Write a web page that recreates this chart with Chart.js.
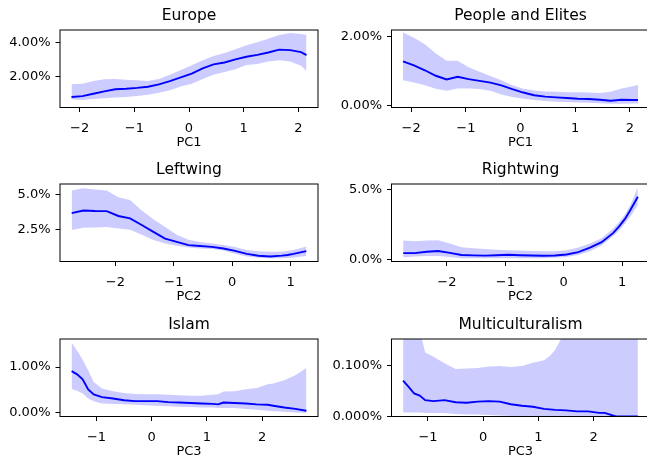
<!DOCTYPE html>
<html>
<head>
<meta charset="utf-8">
<title>PC effects</title>
<script src="https://cdn.jsdelivr.net/npm/chart.js@4.4.1/dist/chart.umd.min.js"></script>
<style>
  html, body { margin: 0; padding: 0; background: #fff; overflow: hidden; }
  #figura { position: relative; width: 647px; height: 460px; overflow: hidden; }
  #figura canvas { position: absolute; }
</style>
</head>
<body>
<div id="figura"></div>
<script>
// ==================== DATA (values in %) ====================

// PC1 panels
const pc1 = [-2.15, -1.95, -1.75, -1.55, -1.35, -1.15, -0.95, -0.75, -0.55, -0.35, -0.15, 0.05,
             0.25, 0.45, 0.65, 0.85, 1.05, 1.25, 1.45, 1.65, 1.85, 2.05, 2.15];
const pc1Ticks = [-2, -1, 0, 1, 2];
const pc1TickLabels = ['−2', '−1', '0', '1', '2'];

const europeMean = [0.82, 0.87, 1.01, 1.15, 1.27, 1.30, 1.35, 1.42, 1.56, 1.75, 1.97, 2.19,
                    2.50, 2.73, 2.84, 3.03, 3.18, 3.29, 3.43, 3.60, 3.57, 3.45, 3.28];
const europeHigh = [1.57, 1.60, 1.75, 1.86, 1.87, 1.83, 1.80, 1.76, 1.88, 2.12, 2.40, 2.68,
                    2.97, 3.22, 3.40, 3.62, 3.85, 4.03, 4.24, 4.46, 4.57, 4.52, 4.47];
const europeLow  = [0.67, 0.64, 0.70, 0.75, 0.78, 0.82, 0.88, 0.95, 1.06, 1.21, 1.44, 1.60,
                    1.88, 2.13, 2.28, 2.45, 2.69, 2.76, 2.90, 2.97, 2.90, 2.65, 2.35];
const europeYTicks = [2, 4];
const europeYTickLabels = ['2.00%', '4.00%'];

const peopleMean = [1.28, 1.16, 1.02, 0.86, 0.75, 0.83, 0.76, 0.71, 0.66, 0.58, 0.47, 0.37,
                    0.29, 0.25, 0.23, 0.21, 0.19, 0.18, 0.16, 0.13, 0.16, 0.15, 0.15];
const peopleHigh = [2.12, 1.97, 1.78, 1.51, 1.30, 1.30, 1.11, 0.98, 0.85, 0.73, 0.58, 0.48,
                    0.43, 0.40, 0.39, 0.38, 0.38, 0.37, 0.36, 0.39, 0.49, 0.55, 0.59];
const peopleLow  = [0.73, 0.66, 0.58, 0.48, 0.42, 0.49, 0.49, 0.47, 0.42, 0.31, 0.24, 0.19,
                    0.15, 0.12, 0.10, 0.09, 0.08, 0.07, 0.06, 0.04, 0.04, 0.05, 0.05];
const peopleYTicks = [0, 2];
const peopleYTickLabels = ['0.00%', '2.00%'];

// PC2 panels
const pc2 = [-2.75, -2.55, -2.35, -2.15, -1.95, -1.75, -1.55, -1.35, -1.15, -0.95, -0.75, -0.55,
             -0.35, -0.15, 0.05, 0.25, 0.45, 0.65, 0.85, 0.95, 1.05, 1.15, 1.27];
const pc2Ticks = [-2, -1, 0, 1];
const pc2TickLabels = ['−2', '−1', '0', '1'];

const leftMean = [3.66, 3.85, 3.81, 3.80, 3.45, 3.28, 2.80, 2.30, 1.82, 1.58, 1.35, 1.28,
                  1.22, 1.10, 0.93, 0.71, 0.58, 0.53, 0.59, 0.63, 0.71, 0.80, 0.91];
const leftHigh = [5.29, 5.46, 5.36, 5.29, 4.80, 4.60, 3.85, 3.22, 2.65, 2.09, 1.74, 1.57,
                  1.46, 1.36, 1.21, 1.00, 0.90, 0.86, 0.87, 0.92, 1.00, 1.10, 1.24];
const leftLow  = [2.43, 2.60, 2.62, 2.66, 2.54, 2.45, 2.10, 1.72, 1.47, 1.30, 1.17, 1.10,
                  1.07, 0.95, 0.73, 0.52, 0.44, 0.40, 0.40, 0.42, 0.46, 0.50, 0.57];
const leftYTicks = [2.5, 5];
const leftYTickLabels = ['2.5%', '5.0%'];

const rightMean = [0.43, 0.43, 0.53, 0.58, 0.45, 0.30, 0.27, 0.25, 0.28, 0.31, 0.28, 0.26,
                   0.24, 0.26, 0.33, 0.50, 0.82, 1.21, 1.88, 2.35, 2.88, 3.57, 4.47];
const rightHigh = [1.33, 1.28, 1.33, 1.36, 1.12, 0.85, 0.78, 0.72, 0.68, 0.63, 0.62, 0.59,
                   0.56, 0.56, 0.63, 0.83, 1.12, 1.50, 2.20, 2.65, 3.20, 3.95, 5.14];
const rightLow  = [0.14, 0.18, 0.22, 0.22, 0.15, 0.07, 0.07, 0.07, 0.07, 0.07, 0.07, 0.07,
                   0.07, 0.10, 0.15, 0.30, 0.56, 0.98, 1.65, 2.05, 2.55, 3.10, 3.88];
const rightYTicks = [0, 5];
const rightYTickLabels = ['0.0%', '5.0%'];

// PC3 panels
const pc3 = [-1.45, -1.35, -1.25, -1.15, -1.05, -0.9, -0.7, -0.5, -0.3, -0.1, 0.1, 0.3, 0.5,
             0.7, 0.9, 1.1, 1.2, 1.3, 1.5, 1.7, 1.9, 2.1, 2.2, 2.4, 2.6, 2.8];
const pc3Ticks = [-1, 0, 1, 2];
const pc3TickLabels = ['−1', '0', '1', '2'];

const islamMean = [0.91, 0.84, 0.73, 0.51, 0.40, 0.34, 0.31, 0.27, 0.25, 0.25, 0.25, 0.23, 0.22,
                   0.21, 0.20, 0.19, 0.18, 0.22, 0.21, 0.20, 0.18, 0.17, 0.15, 0.11, 0.08, 0.04];
const islamHigh = [1.54, 1.36, 1.16, 0.93, 0.67, 0.53, 0.47, 0.43, 0.41, 0.40, 0.40, 0.39, 0.38,
                   0.37, 0.37, 0.39, 0.40, 0.46, 0.47, 0.51, 0.54, 0.62, 0.64, 0.71, 0.82, 0.98];
const islamLow  = [0.52, 0.48, 0.42, 0.31, 0.25, 0.20, 0.19, 0.18, 0.17, 0.16, 0.15, 0.14, 0.13,
                   0.12, 0.11, 0.11, 0.10, 0.10, 0.10, 0.08, 0.06, 0.04, 0.03, 0.02, 0.00, -0.01];
const islamYTicks = [0, 1];
const islamYTickLabels = ['0.00%', '1.00%'];

const multiMean = [0.070, 0.058, 0.045, 0.041, 0.032, 0.030, 0.032, 0.028, 0.027, 0.029, 0.030, 0.029, 0.024,
                   0.021, 0.019, 0.015, 0.014, 0.013, 0.012, 0.010, 0.010, 0.007, 0.007, 0.000, 0.000, 0.000];
const multiHigh = [0.300, 0.270, 0.230, 0.170, 0.125, 0.117, 0.104, 0.093, 0.094, 0.095, 0.098, 0.099, 0.097,
                   0.099, 0.105, 0.110, 0.118, 0.130, 0.170, 0.220, 0.270, 0.320, 0.350, 0.400, 0.450, 0.500];
const multiLow  = [0.008, 0.008, 0.008, 0.008, 0.007, 0.007, 0.007, 0.005, 0.004, 0.004, 0.003, 0.002, 0.001,
                   0.000, 0.000, 0.000, 0.000, 0.000, 0.000, 0.000, 0.000, 0.000, 0.000, 0.000, 0.000, 0.000];
const multiYTicks = [0, 0.1];
const multiYTickLabels = ['0.000%', '0.100%'];

// ==================== LAYOUT ====================
const FONTE = 'DejaVu Sans';
const TICK_SIZE = 13;
const TITLE_SIZE = 15.5;
const CANVAS_W = 330;
const CANVAS_H = 150;
const COL_LEFT = [0, 330];
const AXIS_W = [60, 61.5];      // space for y tick labels
const PAD_RIGHT = [12, 10.5];   // right column runs past the window edge
const ROW_TOP = [0, 153.5, 308.5];
const X_AXIS_H = 42.5;

const paineis = [
    { title: 'Europe', xLabel: 'PC1', x: pc1, mean: europeMean, low: europeLow, high: europeHigh,
      xTicks: pc1Ticks, xTickLabels: pc1TickLabels, yTicks: europeYTicks, yTickLabels: europeYTickLabels,
      xMin: -2.36, xMax: 2.36, yMin: 0.2, yMax: 4.75, col: 0, row: 0 },
    { title: 'People and Elites', xLabel: 'PC1', x: pc1, mean: peopleMean, low: peopleLow, high: peopleHigh,
      xTicks: pc1Ticks, xTickLabels: pc1TickLabels, yTicks: peopleYTicks, yTickLabels: peopleYTickLabels,
      xMin: -2.36, xMax: 2.36, yMin: -0.067, yMax: 2.196, col: 1, row: 0 },
    { title: 'Leftwing', xLabel: 'PC2', x: pc2, mean: leftMean, low: leftLow, high: leftHigh,
      xTicks: pc2Ticks, xTickLabels: pc2TickLabels, yTicks: leftYTicks, yTickLabels: leftYTickLabels,
      xMin: -2.95, xMax: 1.47, yMin: 0.164, yMax: 5.76, col: 0, row: 1 },
    { title: 'Rightwing', xLabel: 'PC2', x: pc2, mean: rightMean, low: rightLow, high: rightHigh,
      xTicks: pc2Ticks, xTickLabels: pc2TickLabels, yTicks: rightYTicks, yTickLabels: rightYTickLabels,
      xMin: -2.95, xMax: 1.47, yMin: -0.17, yMax: 5.38, col: 1, row: 1 },
    { title: 'Islam', xLabel: 'PC3', x: pc3, mean: islamMean, low: islamLow, high: islamHigh,
      xTicks: pc3Ticks, xTickLabels: pc3TickLabels, yTicks: islamYTicks, yTickLabels: islamYTickLabels,
      xMin: -1.66, xMax: 3.01, yMin: -0.087, yMax: 1.617, col: 0, row: 2 },
    { title: 'Multiculturalism', xLabel: 'PC3', x: pc3, mean: multiMean, low: multiLow, high: multiHigh,
      xTicks: pc3Ticks, xTickLabels: pc3TickLabels, yTicks: multiYTicks, yTickLabels: multiYTickLabels,
      xMin: -1.66, xMax: 3.01, yMin: 0, yMax: 0.1516, col: 1, row: 2 }
];

// Box around the plot area (all four spines)
const molduraPlugin = {
    id: 'moldura',
    afterDraw(chart) {
        const { ctx, chartArea: a } = chart;
        ctx.save();
        ctx.strokeStyle = '#000';
        ctx.lineWidth = 1;
        ctx.strokeRect(a.left, a.top, a.right - a.left, a.bottom - a.top);
        ctx.restore();
    }
};

function fonte(tamanho) {
    return { family: FONTE, size: tamanho, weight: 'normal' };
}

// Build one subplot
function criarPainel(p) {
    const canvas = document.createElement('canvas');
    canvas.width = CANVAS_W;
    canvas.height = CANVAS_H;
    canvas.style.left = COL_LEFT[p.col] + 'px';
    canvas.style.top = ROW_TOP[p.row] + 'px';
    document.getElementById('figura').appendChild(canvas);

    const pontos = serie => p.x.map((x, i) => ({ x: x, y: serie[i] }));

    new Chart(canvas.getContext('2d'), {
        type: 'line',
        data: {
            datasets: [
                { data: pontos(p.mean), borderColor: '#0000ff', borderWidth: 1.9,
                  pointRadius: 0, fill: false, tension: 0 },
                { data: pontos(p.low), borderColor: 'transparent', borderWidth: 0,
                  pointRadius: 0, fill: false },
                { data: pontos(p.high), borderColor: 'transparent', borderWidth: 0,
                  pointRadius: 0, fill: 1, backgroundColor: 'rgba(0, 0, 255, 0.2)' }
            ]
        },
        options: {
            responsive: false,
            animation: false,
            events: [],
            layout: { padding: { left: 0, right: PAD_RIGHT[p.col], top: 0, bottom: 0 } },
            plugins: {
                legend: { display: false },
                tooltip: { enabled: false },
                title: {
                    display: true,
                    text: p.title,
                    fullSize: false,
                    color: '#000',
                    font: fonte(TITLE_SIZE),
                    padding: { top: 7, bottom: 4.4 }
                }
            },
            scales: {
                x: {
                    type: 'linear',
                    min: p.xMin,
                    max: p.xMax,
                    afterBuildTicks: s => { s.ticks = p.xTicks.map(v => ({ value: v })); },
                    afterFit: s => { s.height = X_AXIS_H; },
                    ticks: {
                        callback: v => p.xTickLabels[p.xTicks.indexOf(v)],
                        color: '#000',
                        font: fonte(TICK_SIZE),
                        padding: 8.5,
                        maxRotation: 0,
                        autoSkip: false
                    },
                    grid: { drawOnChartArea: false, drawTicks: true, tickLength: 4.5, color: '#000', lineWidth: 1 },
                    border: { display: false },
                    title: { display: true, text: p.xLabel, color: '#000', font: fonte(TICK_SIZE),
                             padding: { top: 0, bottom: 0 } }
                },
                y: {
                    type: 'linear',
                    min: p.yMin,
                    max: p.yMax,
                    afterBuildTicks: s => { s.ticks = p.yTicks.map(v => ({ value: v })); },
                    afterFit: s => { s.width = AXIS_W[p.col]; },
                    ticks: {
                        callback: v => p.yTickLabels[p.yTicks.indexOf(v)],
                        color: '#000',
                        font: fonte(TICK_SIZE),
                        padding: 5,
                        autoSkip: false
                    },
                    grid: { drawOnChartArea: false, drawTicks: true, tickLength: 4.5, color: '#000', lineWidth: 1 },
                    border: { display: false }
                }
            }
        },
        plugins: [molduraPlugin]
    });
}

paineis.forEach(criarPainel);
</script>
</body>
</html>
